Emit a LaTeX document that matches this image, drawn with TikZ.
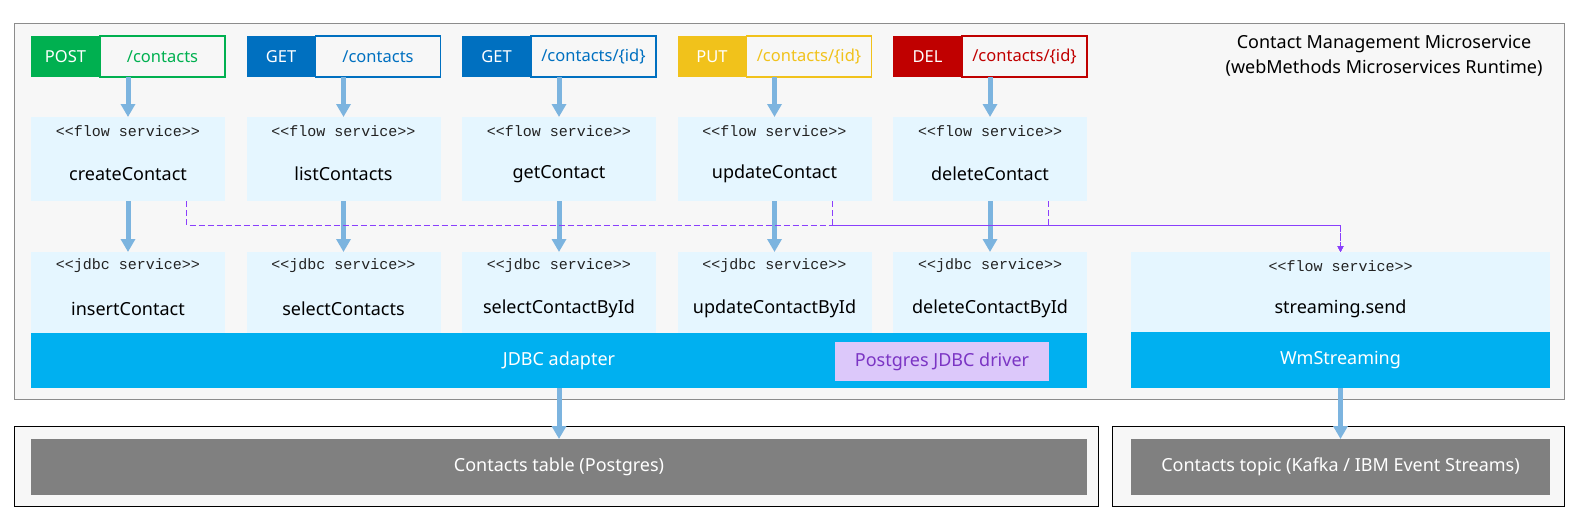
\documentclass[tikz,border=0pt]{standalone}
\usepackage{fontspec}
\setmainfont{Noto Sans}
\setmonofont{Liberation Mono}
\usetikzlibrary{arrows.meta}
\definecolor{cgreen}{HTML}{00B050}
\definecolor{cblue}{HTML}{0070C0}
\definecolor{cyellow}{HTML}{F1C21B}
\definecolor{cred}{HTML}{C00000}
\definecolor{outerfill}{HTML}{F7F7F7}
\definecolor{outerdraw}{HTML}{8C8C8C}
\definecolor{svcfill}{HTML}{E5F6FF}
\definecolor{adapterfill}{HTML}{00B0F0}
\definecolor{driverfill}{HTML}{DCC8FA}
\definecolor{drivertext}{HTML}{7B35C4}
\definecolor{storefill}{HTML}{808080}
\definecolor{arrowblue}{HTML}{7CB4DF}
\definecolor{dashpurple}{HTML}{8A3FFC}
\definecolor{stereotext}{HTML}{222222}
\tikzset{
  box/.style={inner sep=0pt, outer sep=0pt, anchor=north west, draw=none},
  pathbox/.style={box, fill=outerfill, line width=1.2pt, minimum width=125pt, minimum height=41pt},
  methbox/.style={box, minimum width=69pt, minimum height=41pt},
  methtext/.style={inner sep=0pt, text=white, font=\fontsize{16.5}{18}\selectfont},
  pathtext/.style={inner sep=0pt, font=\fontsize{16.5}{18}\selectfont},
  svcbox/.style={box, fill=svcfill, minimum width=194pt},
  stereo/.style={inner sep=0pt, text=stereotext, font=\ttfamily\fontsize{15}{16}\selectfont},
  svcname/.style={inner sep=0pt, font=\fontsize{18}{20}\selectfont},
  bartext/.style={inner sep=0pt, text=white, font=\fontsize{18}{20}\selectfont},
  bluearrow/.style={draw=arrowblue, line width=5pt, -{Triangle[width=14pt,length=13pt]}, shorten <=0pt},
  dasharrow/.style={draw=dashpurple, line width=0.8pt, dash pattern=on 6pt off 3pt, -{Triangle[width=6pt,length=6pt]}},
}
\begin{document}
\begin{tikzpicture}[x=1pt,y=-1pt]
\useasboundingbox (0,0) rectangle (1581,525);
% outer container
\node[box, fill=outerfill, draw=outerdraw, line width=1pt, minimum width=1550pt, minimum height=376pt] (outer) at (14,23) {};
\node[align=center, inner sep=0pt, font=\fontsize{18}{25}\selectfont] (title) at (1384,56) {Contact Management Microservice\\(webMethods Microservices Runtime)};
% columns
\foreach \i/\x/\meth/\p/\col/\flow/\jdbc in {
  0/31/POST/{/contacts}/cgreen/createContact/insertContact,
  1/246.5/GET/{/contacts}/cblue/listContacts/selectContacts,
  2/462/GET/{/contacts/\{id\}}/cblue/getContact/selectContactById,
  3/677.5/PUT/{/contacts/\{id\}}/cyellow/updateContact/updateContactById,
  4/893/DEL/{/contacts/\{id\}}/cred/deleteContact/deleteContactById}{
  \node[pathbox, draw=\col] (hp\i) at (\x+69,36) {};
  \node[pathtext, text=\col] (ht\i) at (hp\i.center) {\p};
  \node[methbox, fill=\col] (hm\i) at (\x,36) {};
  \node[methtext] (hmt\i) at (hm\i.center) {\meth};
  \node[svcbox, minimum height=84pt] (f\i) at (\x,117) {};
  \node[stereo] (fs\i) at ([yshift=-14pt]f\i.north) {<<flow service>>};
  \node[svcname] (fn\i) at ([yshift=-57pt]f\i.north) {\flow};
  \node[svcbox, minimum height=81pt] (j\i) at (\x,252) {};
  \node[stereo] (js\i) at ([yshift=-14pt]j\i.north) {<<jdbc service>>};
  \node[svcname] (jn\i) at ([yshift=-57pt]j\i.north) {\jdbc};
  \draw[bluearrow] (f\i.north |- hp\i.south) -- (f\i.north);
  \draw[bluearrow] (f\i.south) -- (j\i.north);
}
% JDBC adapter
\node[box, fill=adapterfill, minimum width=1056pt, minimum height=55pt] (adapter) at (31,333) {};
\node[bartext] (adaptertext) at (adapter.center) {JDBC adapter};
\node[box, fill=driverfill, minimum width=214pt, minimum height=39pt] (driver) at (835,342) {};
\node[inner sep=0pt, text=drivertext, font=\fontsize{18}{20}\selectfont] (drivertxt) at (driver.center) {Postgres JDBC driver};
% streaming
\node[svcbox, minimum width=419pt, minimum height=79.5pt] (send) at (1131,252) {};
\node[stereo] (sends) at ([yshift=-14pt]send.north) {<<flow service>>};
\node[svcname] (sendn) at ([yshift=-57pt]send.north) {streaming.send};
\node[box, fill=adapterfill, minimum width=419pt, minimum height=56.5pt] (wms) at (1131,331.5) {};
\node[bartext] (wmstext) at (wms.center) {WmStreaming};
% dashed event arrows
\coordinate (dy) at (0,225);
\draw[dasharrow, line width=1pt] ([xshift=58.5pt]f0.south) -- ([xshift=58.5pt]f0.south |- dy) -| (send.north);
\draw[dasharrow, line width=0.7pt] ([xshift=57.5pt]f3.south) -- ([xshift=57.5pt]f3.south |- dy) -| (send.north);
\draw[dasharrow, line width=0.7pt] ([xshift=58.5pt]f4.south) -- ([xshift=58.5pt]f4.south |- dy) -| (send.north);
% bottom stores
\node[box, fill=outerfill, draw=black, line width=1pt, minimum width=1084pt, minimum height=80.5pt] (dbouter) at (14,426) {};
\node[box, fill=storefill, minimum width=1056pt, minimum height=56pt] (dbtable) at (31,439) {};
\node[bartext] (dbtabletext) at (dbtable.center) {Contacts table (Postgres)};
\node[box, fill=outerfill, draw=black, line width=1pt, minimum width=452pt, minimum height=80pt] (kouter) at (1112,426) {};
\node[box, fill=storefill, minimum width=419pt, minimum height=55.5pt] (ktopic) at (1131,439) {};
\node[bartext] (ktopictext) at (ktopic.center) {Contacts topic (Kafka / IBM Event Streams)};
\draw[bluearrow] (adapter.south) -- (dbtable.north);
\draw[bluearrow] (wms.south) -- (ktopic.north);
\end{tikzpicture}
\end{document}
